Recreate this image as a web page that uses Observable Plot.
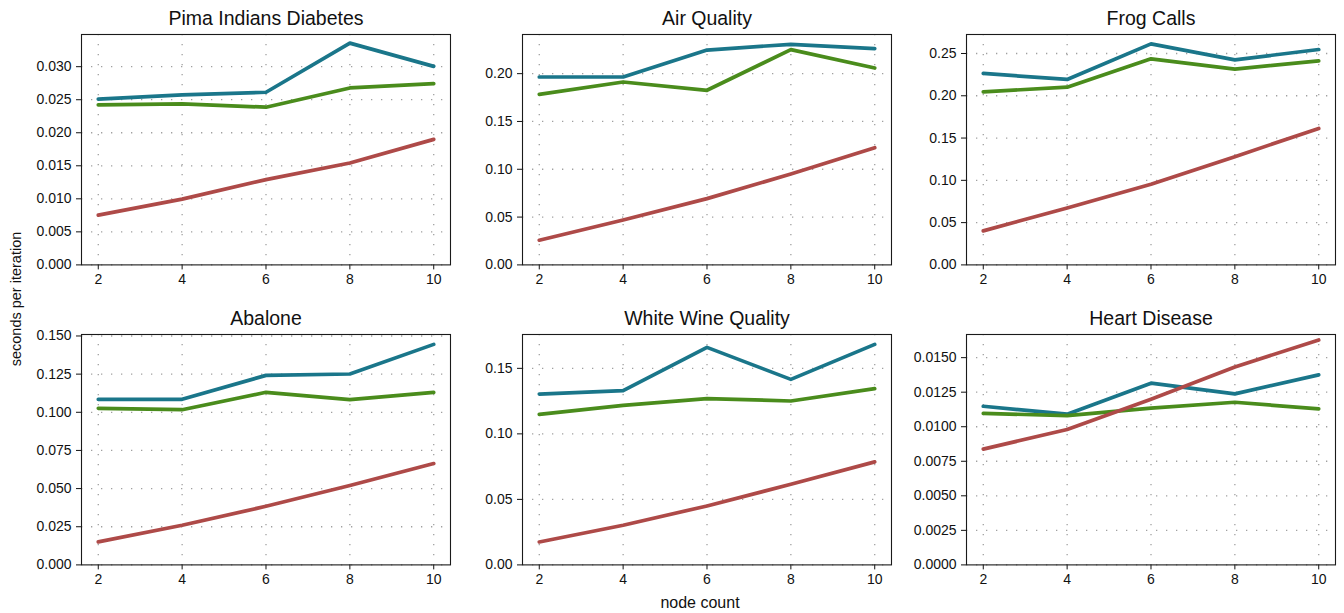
<!DOCTYPE html>
<html>
<head>
<meta charset="utf-8">
<script src="https://cdn.jsdelivr.net/npm/d3@7"></script>
<script src="https://cdn.jsdelivr.net/npm/@observablehq/plot@0.6"></script>
<style>
  html, body { margin: 0; padding: 0; background: #fff; }
  #chart { position: relative; width: 1344px; height: 613px; font-family: "Liberation Sans", Arial, sans-serif; color: #111; }
  #chart svg.panel { position: absolute; }
  #chart svg.panel text { font-size: 14px; font-family: "Liberation Sans", Arial, sans-serif; }
  #chart svg.panel g[aria-label="text"] text { font-size: 19.5px; }
  .ylab { position: absolute; left: 16px; top: 299px; transform: translate(-50%, -50%) rotate(-90deg); font-size: 14.5px; white-space: nowrap; }
  .xlab { position: absolute; left: 700px; top: 603px; transform: translate(-50%, -50%); font-size: 16px; white-space: nowrap; }
</style>
</head>
<body>
<div id="chart"></div>
<script>
// ---- data ----
const nodeCounts = [2, 4, 6, 8, 10];
const datasetNames = ["Pima Indians Diabetes", "Air Quality", "Frog Calls", "Abalone", "White Wine Quality", "Heart Disease"];
const seriesNames = ["A", "B", "C"];
const seriesColors = ["#1a768a", "#4a8c1c", "#ae4a48"];

// teal series, one row per dataset
const seriesA = [
  [0.02508, 0.02573, 0.02613, 0.03357, 0.03005],
  [0.1965, 0.1965, 0.2247, 0.2307, 0.2261],
  [0.2264, 0.2193, 0.2614, 0.2425, 0.2547],
  [0.1085, 0.1085, 0.1242, 0.1251, 0.1445],
  [0.1304, 0.1330, 0.1660, 0.1416, 0.1683],
  [0.01148, 0.01091, 0.01315, 0.01238, 0.01375]
];
// green series
const seriesB = [
  [0.02422, 0.02437, 0.02387, 0.02678, 0.02744],
  [0.1784, 0.1913, 0.1826, 0.2251, 0.2059],
  [0.2047, 0.2102, 0.2437, 0.2315, 0.2413],
  [0.1026, 0.1017, 0.1131, 0.1083, 0.1131],
  [0.1149, 0.1218, 0.1269, 0.1251, 0.1345],
  [0.01096, 0.01081, 0.01134, 0.01177, 0.01129]
];
// red series
const seriesC = [
  [0.00754, 0.00995, 0.01291, 0.01543, 0.01900],
  [0.0258, 0.0470, 0.0693, 0.0951, 0.1226],
  [0.0402, 0.0673, 0.0953, 0.1280, 0.1614],
  [0.01507, 0.0260, 0.0384, 0.0520, 0.0664],
  [0.0175, 0.0303, 0.0450, 0.0615, 0.0786],
  [0.00838, 0.00980, 0.01199, 0.01433, 0.01628]
];

const yTicks = [
  [0, 0.005, 0.010, 0.015, 0.020, 0.025, 0.030],
  [0, 0.05, 0.10, 0.15, 0.20],
  [0, 0.05, 0.10, 0.15, 0.20, 0.25],
  [0, 0.025, 0.050, 0.075, 0.100, 0.125, 0.150],
  [0, 0.05, 0.10, 0.15],
  [0, 0.0025, 0.0050, 0.0075, 0.0100, 0.0125, 0.0150]
];
const yDecimals = [3, 2, 2, 3, 2, 4];

const yAxisLabel = "seconds per iteration";
const xAxisLabel = "node count";

// ---- layout ----
const colFrameLeft = [81, 522, 966];
const rowFrameTop = [34.3, 334.3];
const frameW = 369, frameH = 230.4;
const mL = 80, mR = 12, mT = 34, mB = 36;

const chart = document.getElementById("chart");
const allSeries = [seriesA, seriesB, seriesC];

datasetNames.forEach((name, i) => {
  const rows = [];
  allSeries.forEach((s, k) => nodeCounts.forEach((n, j) => rows.push({series: seriesNames[k], x: n, y: s[i][j]})));
  const lo = d3.min(rows, d => d.y), hi = d3.max(rows, d => d.y);
  const xPad = 0.05 * (d3.max(nodeCounts) - d3.min(nodeCounts));
  const fmt = d3.format(`.${yDecimals[i]}f`);
  const plot = Plot.plot({
    width: mL + frameW + mR,
    height: mT + frameH + mB,
    marginLeft: mL, marginRight: mR, marginTop: mT, marginBottom: mB,
    style: {background: "transparent", overflow: "visible", fontSize: "14px", fontFamily: "'Liberation Sans', Arial, sans-serif", color: "#111"},
    x: {domain: [d3.min(nodeCounts) - xPad, d3.max(nodeCounts) + xPad], ticks: nodeCounts, tickFormat: d => String(d), tickSize: 5, tickPadding: 4, label: null},
    y: {domain: [0, hi + 0.05 * (hi - lo)], ticks: yTicks[i], tickFormat: fmt, tickSize: 5, tickPadding: 5, label: null},
    color: {domain: seriesNames, range: seriesColors},
    marks: [
      Plot.ruleX(nodeCounts, {stroke: "#a0a0a0", strokeWidth: 1.3, strokeDasharray: "1.3,8.7"}),
      Plot.ruleY(yTicks[i], {stroke: "#a0a0a0", strokeWidth: 1.3, strokeDasharray: "1.3,8.7"}),
      Plot.line(rows, {x: "x", y: "y", z: "series", stroke: "series", strokeWidth: 3.7}),
      Plot.frame({stroke: "#1a1a1a", strokeWidth: 1.1}),
      Plot.text([name], {frameAnchor: "top", text: d => d, dy: -9, lineAnchor: "bottom", fontSize: 19.5, fill: "#111"})
    ]
  });
  const col = i % 3, row = Math.floor(i / 3);
  plot.classList.add("panel");
  plot.style.left = (colFrameLeft[col] - mL) + "px";
  plot.style.top = (rowFrameTop[row] - mT) + "px";
  chart.appendChild(plot);
});

const yl = document.createElement("div");
yl.className = "ylab"; yl.textContent = yAxisLabel; chart.appendChild(yl);
const xl = document.createElement("div");
xl.className = "xlab"; xl.textContent = xAxisLabel; chart.appendChild(xl);
</script>
</body>
</html>
